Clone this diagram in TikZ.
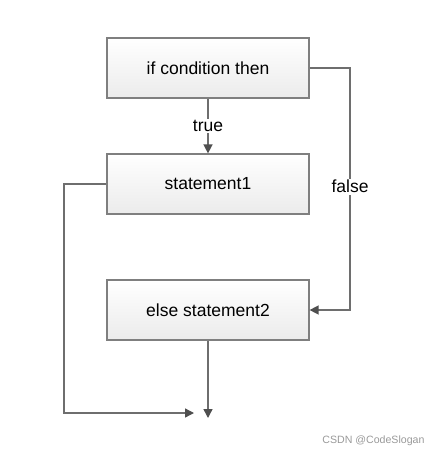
\documentclass[tikz,border=0pt]{standalone}
\usepackage{fontspec}
\setmainfont{Liberation Sans}
\usetikzlibrary{arrows.meta}
\definecolor{boxborder}{HTML}{7F7F7F}
\definecolor{linegray}{HTML}{6E6E6E}
\definecolor{tipgray}{HTML}{4F4F4F}
\definecolor{boxbottom}{HTML}{EBEBEB}
\begin{document}
\begin{tikzpicture}[x=1pt,y=-1pt,
  box/.style={draw=boxborder, line width=1.2pt, top color=white, bottom color=boxbottom,
    minimum width=202pt, minimum height=60pt, inner sep=0pt, font=\fontsize{17.5}{20}\selectfont},
  conn/.style={draw=linegray, line width=1.4pt, -{Triangle[length=9pt,width=9pt,color=tipgray,fill=tipgray]}},
  lbl/.style={fill=white, inner sep=1.5pt, font=\fontsize{17.5}{20}\selectfont}]
\useasboundingbox (0,0) rectangle (431,460);
\node[box] (b1) at (208,68) {if condition then};
\node[box] (b2) at (208,184) {statement1};
\node[box] (b3) at (208,310) {else statement2};
\coordinate (e1) at (194,413);
\coordinate (e2) at (208,418);
\draw[conn] (b1.south) -- node[lbl] {true} (b2.north);
\draw[conn] (b1.east) -- (350,68) -- node[lbl, pos=0.49] {false} (350,310) -- (b3.east);
\draw[conn] (b2.west) -- (64,184) -- (64,413) -- (e1);
\draw[conn] (b3.south) -- (e2);
\node[anchor=east, text=black!40, font=\fontsize{10.6}{12}\selectfont] (wm) at (428,441) {CSDN @CodeSlogan};
\end{tikzpicture}
\end{document}
